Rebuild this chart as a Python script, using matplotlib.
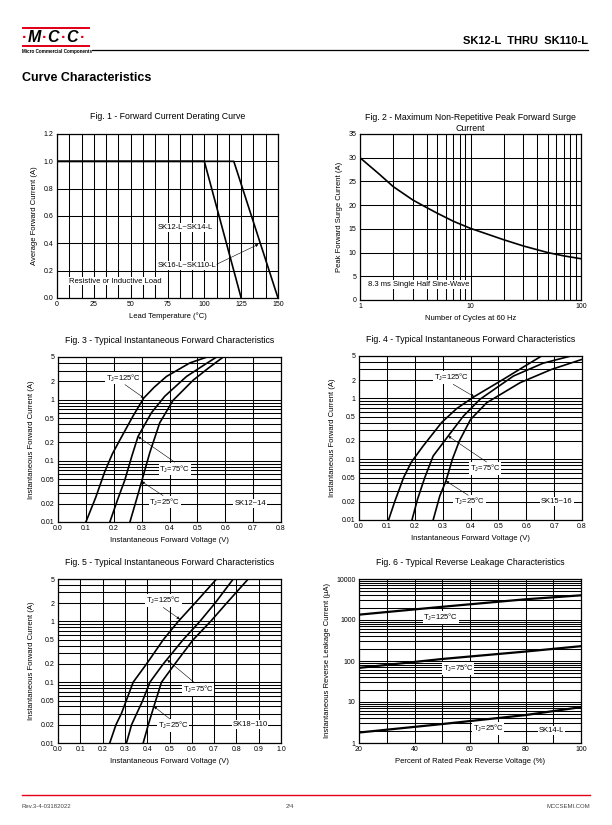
"""Curve characteristics page, SK12-L thru SK110-L."""

import matplotlib

matplotlib.use("Agg")
import matplotlib.pyplot as plt
from matplotlib.patches import Rectangle

plt.rcParams["font.family"] = ["Liberation Sans", "DejaVu Sans"]
plt.rcParams["mathtext.fontset"] = "custom"
plt.rcParams["mathtext.rm"] = "Liberation Sans"
plt.rcParams["mathtext.default"] = "regular"

# ---- data ----
# Fig. 1 derating
temp_a = [0, 100, 125]
cur_a = [1.0, 1.0, 0.0]
temp_b = [0, 120, 150]
cur_b = [1.0, 1.0, 0.0]

# Fig. 2 surge
cycles = [1, 1.5, 2, 3, 4, 5, 7, 10, 15, 20, 30, 50, 70, 100]
surge = [30, 26.5, 23.9, 21.1, 19.5, 18.3, 16.6, 15.1, 13.7, 12.7, 11.4, 10.0, 9.3, 8.7]

# Fig. 3 SK12~14 forward
f3_v125 = [0.100, 0.135, 0.168, 0.195, 0.222, 0.269, 0.308, 0.345, 0.389, 0.473, 0.535]
f3_i125 = [0.01, 0.025, 0.067, 0.13, 0.22, 0.54, 1.07, 1.6, 2.4, 4.0, 5.0]
f3_v75 = [0.186, 0.212, 0.240, 0.265, 0.287, 0.335, 0.383, 0.461, 0.520, 0.569]
f3_i75 = [0.01, 0.022, 0.049, 0.12, 0.25, 0.61, 1.14, 2.4, 3.6, 5.0]
f3_v25 = [0.258, 0.280, 0.300, 0.329, 0.365, 0.413, 0.485, 0.540, 0.593]
f3_i25 = [0.01, 0.022, 0.046, 0.135, 0.42, 0.98, 2.09, 3.3, 5.0]

# Fig. 4 SK15~16 forward
f4_v125 = [0.106, 0.128, 0.160, 0.188, 0.230, 0.296, 0.350, 0.413, 0.518, 0.590, 0.655]
f4_i125 = [0.01, 0.02, 0.05, 0.09, 0.165, 0.40, 0.68, 1.07, 2.07, 3.3, 5.0]
f4_v75 = [0.190, 0.210, 0.236, 0.266, 0.320, 0.374, 0.434, 0.554, 0.660, 0.760]
f4_i75 = [0.01, 0.022, 0.05, 0.113, 0.241, 0.51, 0.97, 2.34, 3.8, 5.0]
f4_v25 = [0.266, 0.290, 0.312, 0.335, 0.360, 0.400, 0.458, 0.578, 0.690, 0.800]
f4_i25 = [0.01, 0.025, 0.044, 0.10, 0.20, 0.45, 0.85, 1.82, 3.0, 4.4]

# Fig. 5 SK18~110 forward
f5_v125 = [0.232, 0.260, 0.285, 0.337, 0.397, 0.472, 0.539, 0.614, 0.711]
f5_i125 = [0.01, 0.02, 0.031, 0.10, 0.20, 0.50, 1.0, 2.0, 5.0]
f5_v75 = [0.307, 0.330, 0.352, 0.380, 0.412, 0.472, 0.561, 0.636, 0.704, 0.786]
f5_i75 = [0.01, 0.02, 0.03, 0.05, 0.10, 0.20, 0.50, 1.0, 2.0, 5.0]
f5_v25 = [0.382, 0.405, 0.430, 0.464, 0.524, 0.606, 0.684, 0.756, 0.853]
f5_i25 = [0.01, 0.02, 0.04, 0.10, 0.20, 0.50, 1.0, 2.0, 5.0]

# Fig. 6 reverse leakage
pct = [20, 50, 80, 100]
leak125 = [1350, 2100, 3200, 4000]
leak75 = [68, 112, 170, 230]
leak25 = [1.8, 2.9, 4.8, 7.5]

fwd_ticks = [0.01, 0.02, 0.05, 0.1, 0.2, 0.5, 1, 2, 5]
fwd_labels = ["0.01", "0.02", "0.05", "0.1", "0.2", "0.5", "1", "2", "5"]

W, H = 612, 825
fig = plt.figure(figsize=(W / 100, H / 100), dpi=100)

page = fig.add_axes([0, 0, 1, 1])
page.set_xlim(0, W)
page.set_ylim(H, 0)
page.axis("off")

RED = "#e3001b"
LW = 1.2
BOX = dict(facecolor="white", edgecolor="none", pad=0.6)


def axes_px(l, t, r, b):
    return fig.add_axes([l / W, 1 - b / H, (r - l) / W, (b - t) / H])


def decorate(ax, title, xlabel, ylabel, pad=10):
    ax.set_title(title, fontsize=6.3, pad=pad)
    ax.set_xlabel(xlabel, fontsize=5.5, labelpad=3)
    ax.set_ylabel(ylabel, fontsize=5.5, labelpad=4)
    ax.tick_params(which="both", length=0, labelsize=5, pad=2.5)
    ax.grid(which="both", color="black", linewidth=0.75)
    ax.set_axisbelow(True)
    for s in ax.spines.values():
        s.set_linewidth(0.9)


def minor_log(lo_exp, hi_exp):
    return [k * 10.0 ** e for e in range(lo_exp, hi_exp) for k in range(2, 10)]


def arrow(ax, start, tip):
    ax.annotate("", xy=tip, xytext=start,
                arrowprops=dict(arrowstyle="-|>", color="black", lw=0.4,
                                mutation_scale=4, shrinkA=0, shrinkB=0))


def tj(ax, x, y, t):
    ax.text(x, y, r"T$_\mathrm{J}$=%s°C" % t, fontsize=5.5, ha="center",
            va="center", bbox=BOX)


# ---- header ----
page.add_patch(Rectangle((22, 26.5), 68, 2.2, color=RED, lw=0))
page.add_patch(Rectangle((22, 45), 68, 2.2, color=RED, lw=0))
for x, ch in zip([34, 53, 72], "MCC"):
    page.text(x, 37, ch, fontsize=11.5, fontweight="bold", fontstyle="italic",
              ha="center", va="center")
for x in [25, 45, 64, 83]:
    page.text(x, 38, "·", fontsize=11.5, fontweight="bold", color=RED,
              ha="center", va="center")
page.text(22, 51.5, "Micro Commercial Components", fontsize=3.3,
          fontweight="bold", va="center")
page.plot([92, 588], [50, 50], color="black", lw=0.9)
page.text(588, 41, "SK12-L  THRU  SK110-L", fontsize=8, fontweight="bold",
          ha="right", va="center")
page.text(22, 78, "Curve Characteristics", fontsize=9, fontweight="bold",
          va="center")

# ---- footer ----
page.plot([22, 590], [795, 795], color=RED, lw=1)
page.text(22, 806, "Rev.3-4-03182022", fontsize=4.3, color="#444444",
          va="center")
page.text(290, 806, "2/4", fontsize=4.3, color="#444444", ha="center",
          va="center")
page.text(590, 806, "MCCSEMI.COM", fontsize=4.3, color="#444444", ha="right",
          va="center")

# ---- Fig. 1 ----
ax1 = axes_px(57, 134, 278, 298)
ax1.plot(temp_a, cur_a, color="black", lw=LW)
ax1.plot(temp_b, cur_b, color="black", lw=LW)
ax1.set_xlim(0, 150)
ax1.set_ylim(0, 1.2)
ax1.set_xticks([0, 25, 50, 75, 100, 125, 150])
ax1.set_xticks([i * 150 / 18 for i in range(18) if i % 3], minor=True)
ax1.set_yticks([0, 0.2, 0.4, 0.6, 0.8, 1.0, 1.2])
ax1.set_yticklabels(["0.0", "0.2", "0.4", "0.6", "0.8", "1.0", "1.2"])
decorate(ax1, "Fig. 1 - Forward Current Derating Curve",
         "Lead Temperature (°C)", "Average Forward Current (A)", pad=11)
ax1.text(86.9, 0.514, "SK12-L~SK14-L", fontsize=5.5, ha="center",
         va="center", bbox=BOX)
ax1.text(88, 0.236, "SK16-L~SK110-L", fontsize=5.5, ha="center", va="center",
         bbox=BOX)
arrow(ax1, (108.4, 0.247), (136.7, 0.393))
ax1.text(8.4, 0.124, "Resistive or Inductive Load", fontsize=5.5,
         va="center", bbox=BOX)

# ---- Fig. 2 ----
ax2 = axes_px(360, 134, 581, 300)
ax2.plot(cycles, surge, color="black", lw=LW)
ax2.set_xscale("log")
ax2.set_xlim(1, 100)
ax2.set_ylim(0, 35)
ax2.set_xticks([1, 10, 100])
ax2.set_xticklabels(["1", "10", "100"])
ax2.set_xticks(minor_log(0, 2), minor=True)
ax2.set_xticklabels([], minor=True)
ax2.set_yticks(range(0, 36, 5))
decorate(ax2, "Fig. 2 - Maximum Non-Repetitive Peak Forward Surge\nCurrent",
         "Number of Cycles at 60 Hz", "Peak Forward Surge Current (A)", pad=2.5)
ax2.text(1.18, 3.3, "8.3 ms Single Half Sine-Wave", fontsize=5.5,
         va="center", bbox=BOX)


# ---- Fig. 3 - 5 ----
def forward(ax, xmax, curves, labels, part, title):
    for v, i in curves:
        ax.plot(v, i, color="black", lw=LW)
    ax.set_yscale("log")
    ax.set_xlim(0, xmax)
    ax.set_ylim(0.01, 5)
    xt = [round(0.1 * k, 1) for k in range(int(round(xmax * 10)) + 1)]
    ax.set_xticks(xt)
    ax.set_xticklabels(["%.1f" % x for x in xt])
    ax.set_yticks(fwd_ticks)
    ax.set_yticklabels(fwd_labels)
    ax.set_yticks([m for m in minor_log(-2, 1) if m < 5.01 and m not in fwd_ticks],
                  minor=True)
    ax.set_yticklabels([], minor=True)
    decorate(ax, title, "Instantaneous Forward Voltage (V)",
             "Instantaneous Forward Current (A)")
    for t, lab, start, tip in labels:
        tj(ax, lab[0], lab[1], t)
        arrow(ax, start, tip)
    ax.text(part[1], 0.02, part[0], fontsize=5.5, ha="center", va="center",
            bbox=BOX)


ax3 = axes_px(58, 357, 281, 522)
forward(ax3, 0.8,
        [(f3_v125, f3_i125), (f3_v75, f3_i75), (f3_v25, f3_i25)],
        [("125", (0.234, 2.27), (0.24, 1.77), (0.308, 1.07)),
         ("75", (0.419, 0.0736), (0.419, 0.095), (0.287, 0.25)),
         ("25", (0.383, 0.0212), (0.377, 0.027), (0.300, 0.046))],
        ("SK12~14", 0.689),
        "Fig. 3 - Typical Instantaneous Forward Characteristics")

ax4 = axes_px(359, 356, 582, 520)
forward(ax4, 0.8,
        [(f4_v125, f4_i125), (f4_v75, f4_i75), (f4_v25, f4_i25)],
        [("125", (0.332, 2.2), (0.338, 1.71), (0.413, 1.07)),
         ("75", (0.452, 0.07), (0.458, 0.09), (0.320, 0.241)),
         ("25", (0.396, 0.02), (0.392, 0.0255), (0.312, 0.0438))],
        ("SK15~16", 0.71),
        "Fig. 4 - Typical Instantaneous Forward Characteristics")

ax5 = axes_px(58, 579, 281, 743)
forward(ax5, 1.0,
        [(f5_v125, f5_i125), (f5_v75, f5_i75), (f5_v25, f5_i25)],
        [("125", (0.472, 2.2), (0.472, 1.7), (0.546, 1.09)),
         ("75", (0.629, 0.077), (0.614, 0.097), (0.490, 0.233)),
         ("25", (0.516, 0.0195), (0.502, 0.0248), (0.430, 0.040))],
        ("SK18~110", 0.861),
        "Fig. 5 - Typical Instantaneous Forward Characteristics")

# ---- Fig. 6 ----
ax6 = axes_px(359, 579, 581, 743)
for series in (leak125, leak75, leak25):
    ax6.plot(pct, series, color="black", lw=1.6)
ax6.set_yscale("log")
ax6.set_xlim(20, 100)
ax6.set_ylim(1, 10000)
ax6.set_xticks([20, 40, 60, 80, 100])
ax6.set_xticks([30, 50, 70, 90], minor=True)
ax6.set_yticks([1, 10, 100, 1000, 10000])
ax6.set_yticklabels(["1", "10", "100", "1000", "10000"])
ax6.set_yticks(minor_log(0, 4), minor=True)
ax6.set_yticklabels([], minor=True)
decorate(ax6, "Fig. 6 - Typical Reverse Leakage Characteristics",
         "Percent of Rated Peak Reverse Voltage (%)",
         "Instantaneous Reverse Leakage Current (µA)")
tj(ax6, 49.5, 1140, "125")
tj(ax6, 55.7, 67, "75")
tj(ax6, 66.5, 2.3, "25")
ax6.text(89.4, 2.0, "SK14-L", fontsize=5.5, ha="center", va="center",
         bbox=BOX)

fig.savefig("out.png", dpi=100)
